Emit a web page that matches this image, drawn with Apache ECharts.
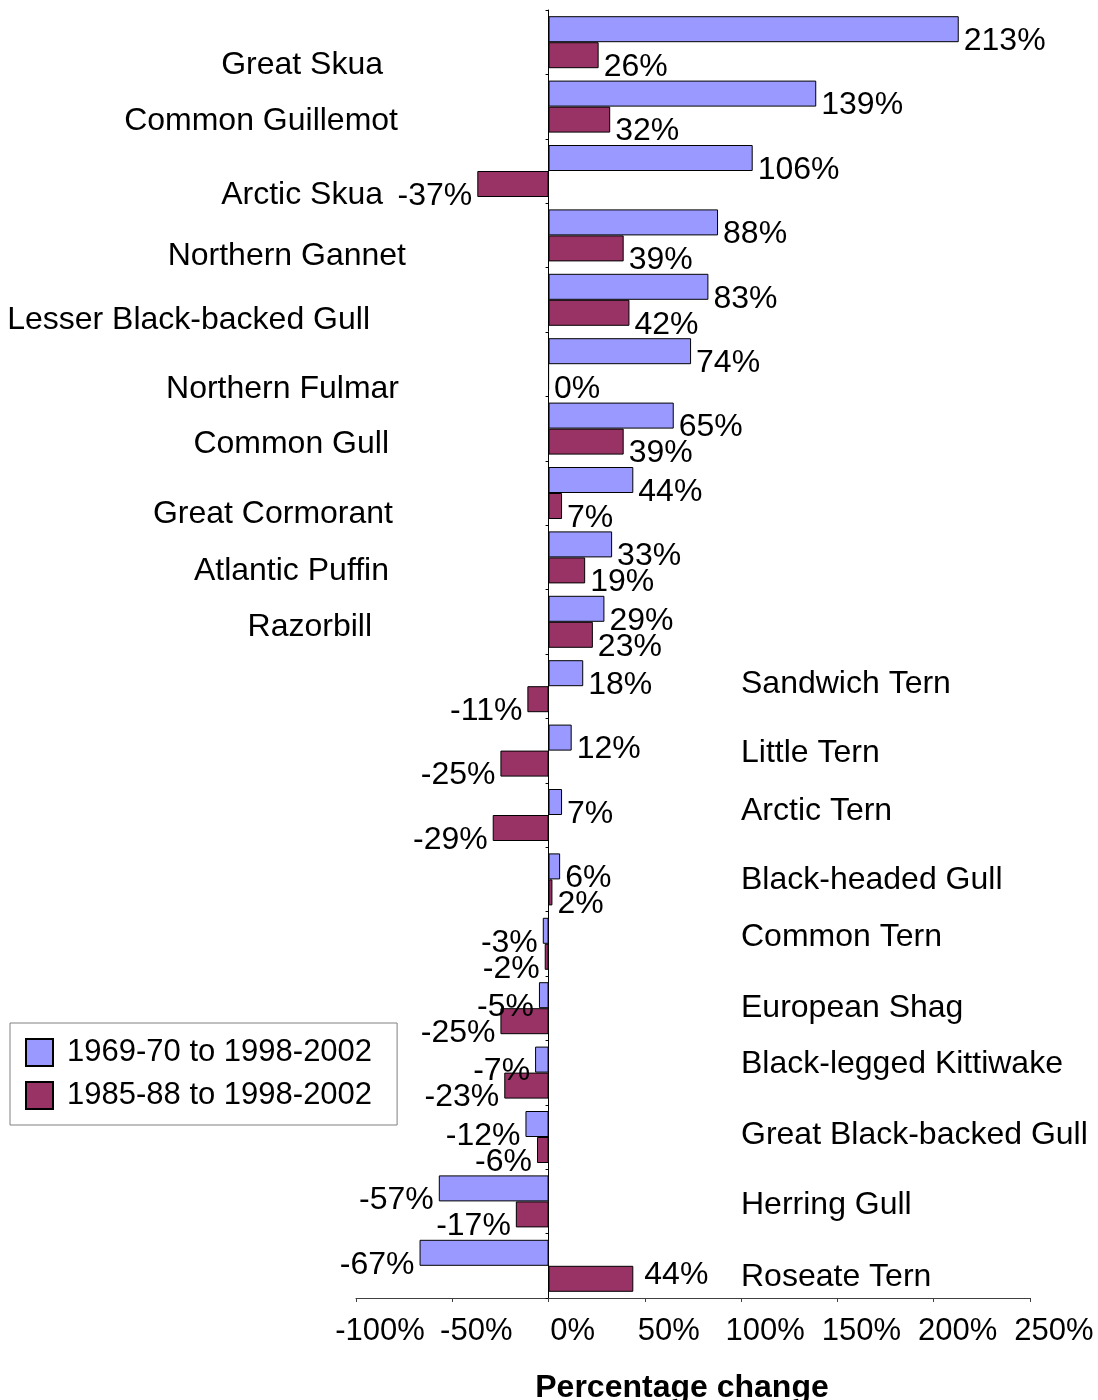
<!DOCTYPE html>
<html>
<head>
<meta charset="utf-8">
<script src="https://cdn.jsdelivr.net/npm/echarts@6/dist/echarts.min.js"></script>
<style>
  html, body { margin: 0; padding: 0; background: #fff; }
  #chart { width: 1098px; height: 1400px; }
</style>
</head>
<body>
<div id="chart"></div>
<script>
// species, top to bottom
const species = [
    'Great Skua', 'Common Guillemot', 'Arctic Skua', 'Northern Gannet',
    'Lesser Black-backed Gull', 'Northern Fulmar', 'Common Gull', 'Great Cormorant',
    'Atlantic Puffin', 'Razorbill', 'Sandwich Tern', 'Little Tern', 'Arctic Tern',
    'Black-headed Gull', 'Common Tern', 'European Shag', 'Black-legged Kittiwake',
    'Great Black-backed Gull', 'Herring Gull', 'Roseate Tern'
];
// % change 1969-70 to 1998-2002
const change6970 = [213, 139, 106, 88, 83, 74, 65, 44, 33, 29, 18, 12, 7, 6, -3, -5, -7, -12, -57, -67];
// % change 1985-88 to 1998-2002
const change8588 = [26, 32, -37, 39, 42, 0, 39, 7, 19, 23, -11, -25, -29, 2, -2, -25, -23, -6, -17, 44];
const seriesNames = ['1969-70 to 1998-2002', '1985-88 to 1998-2002'];
const xTicks = [-100, -50, 0, 50, 100, 150, 200, 250];

// species label placement: first 10 on the left (right edge), rest on the right
const leftEdges = [383, 398, 383, 406, 370, 399, 389, 393, 389, 372];
const rightStart = 741;
const nameDy = [23, 15, 24, 21, 20, 25, 16, 21, 14, 5, -2, 3, -4, 1, -7, 0, -8, -2, 4, 11];

const FONT = 'Liberation Sans, Arial, sans-serif';
const FS = 32;

function barData(values, nudge) {
    return values.map((v, i) => {
        const item = { value: v, label: { position: v < 0 ? 'left' : 'right' } };
        if (nudge && nudge[i]) {
            item.label.offset = nudge[i].offset;
            item.label.distance = nudge[i].distance;
        }
        return item;
    });
}

// a couple of labels sit differently in the original
const nudge8588 = { 19: { offset: [0, -4], distance: 11 } };

const chart = echarts.init(document.getElementById('chart'), null, { renderer: 'canvas' });

const barLabel = {
    show: true,
    formatter: '{c}%',
    color: '#000',
    fontSize: FS,
    fontFamily: FONT,
    distance: 5,
    offset: [0, 12]
};

chart.setOption({
    animation: false,
    backgroundColor: '#fff',
    textStyle: { fontFamily: FONT },
    grid: { left: 356, right: 68, top: 10, bottom: 102, containLabel: false, outerBoundsMode: 'none' },
    legend: {
        orient: 'vertical',
        left: 10,
        top: 1023,
        data: seriesNames,
        icon: 'rect',
        itemWidth: 27,
        itemHeight: 27,
        itemGap: 12,
        padding: [14, 25, 14, 15],
        borderColor: '#808080',
        borderWidth: 1,
        backgroundColor: '#fff',
        textStyle: { fontSize: 31, color: '#000', fontFamily: FONT, padding: [0, 0, 0, 9] }
    },
    xAxis: {
        type: 'value',
        min: xTicks[0],
        max: xTicks[xTicks.length - 1],
        interval: 50,
        name: 'Percentage change',
        nameLocation: 'middle',
        nameGap: 74,
        nameTextStyle: { fontSize: FS, fontWeight: 'bold', color: '#000', fontFamily: FONT, padding: [0, 22, 0, 0] },
        axisLine: { show: true, onZero: false, lineStyle: { color: '#404040', width: 1 } },
        axisTick: { show: true, length: 4, lineStyle: { color: '#404040' } },
        axisLabel: { formatter: '{value}%', fontSize: 31, color: '#000', fontFamily: FONT, margin: 18, padding: [0, 0, 0, 48] },
        splitLine: { show: false }
    },
    yAxis: {
        type: 'category',
        data: species,
        inverse: true,
        axisLine: { show: true, onZero: true, lineStyle: { color: '#000', width: 1 } },
        axisTick: { show: true, length: 3, lineStyle: { color: '#000' } },
        axisLabel: { show: false },
        splitLine: { show: false }
    },
    series: [
        {
            name: seriesNames[0],
            type: 'bar',
            data: barData(change6970),
            barWidth: 26,
            barGap: '0%',
            itemStyle: { color: '#9999FF', borderColor: '#000', borderWidth: 1 },
            label: barLabel
        },
        {
            name: seriesNames[1],
            type: 'bar',
            data: barData(change8588, nudge8588),
            barWidth: 26,
            barGap: '0%',
            itemStyle: { color: '#993366', borderColor: '#000', borderWidth: 1 },
            label: barLabel
        }
    ]
});

// species names beside the bars
const nameTexts = species.map((name, i) => {
    const y = chart.convertToPixel({ yAxisIndex: 0 }, name) + nameDy[i];
    const onLeft = i < leftEdges.length;
    return {
        type: 'text',
        x: onLeft ? leftEdges[i] : rightStart,
        y: y,
        style: {
            text: name,
            fill: '#000',
            font: FS + 'px ' + FONT,
            textAlign: onLeft ? 'right' : 'left',
            textVerticalAlign: 'middle'
        }
    };
});
chart.setOption({ graphic: nameTexts });
</script>
</body>
</html>
